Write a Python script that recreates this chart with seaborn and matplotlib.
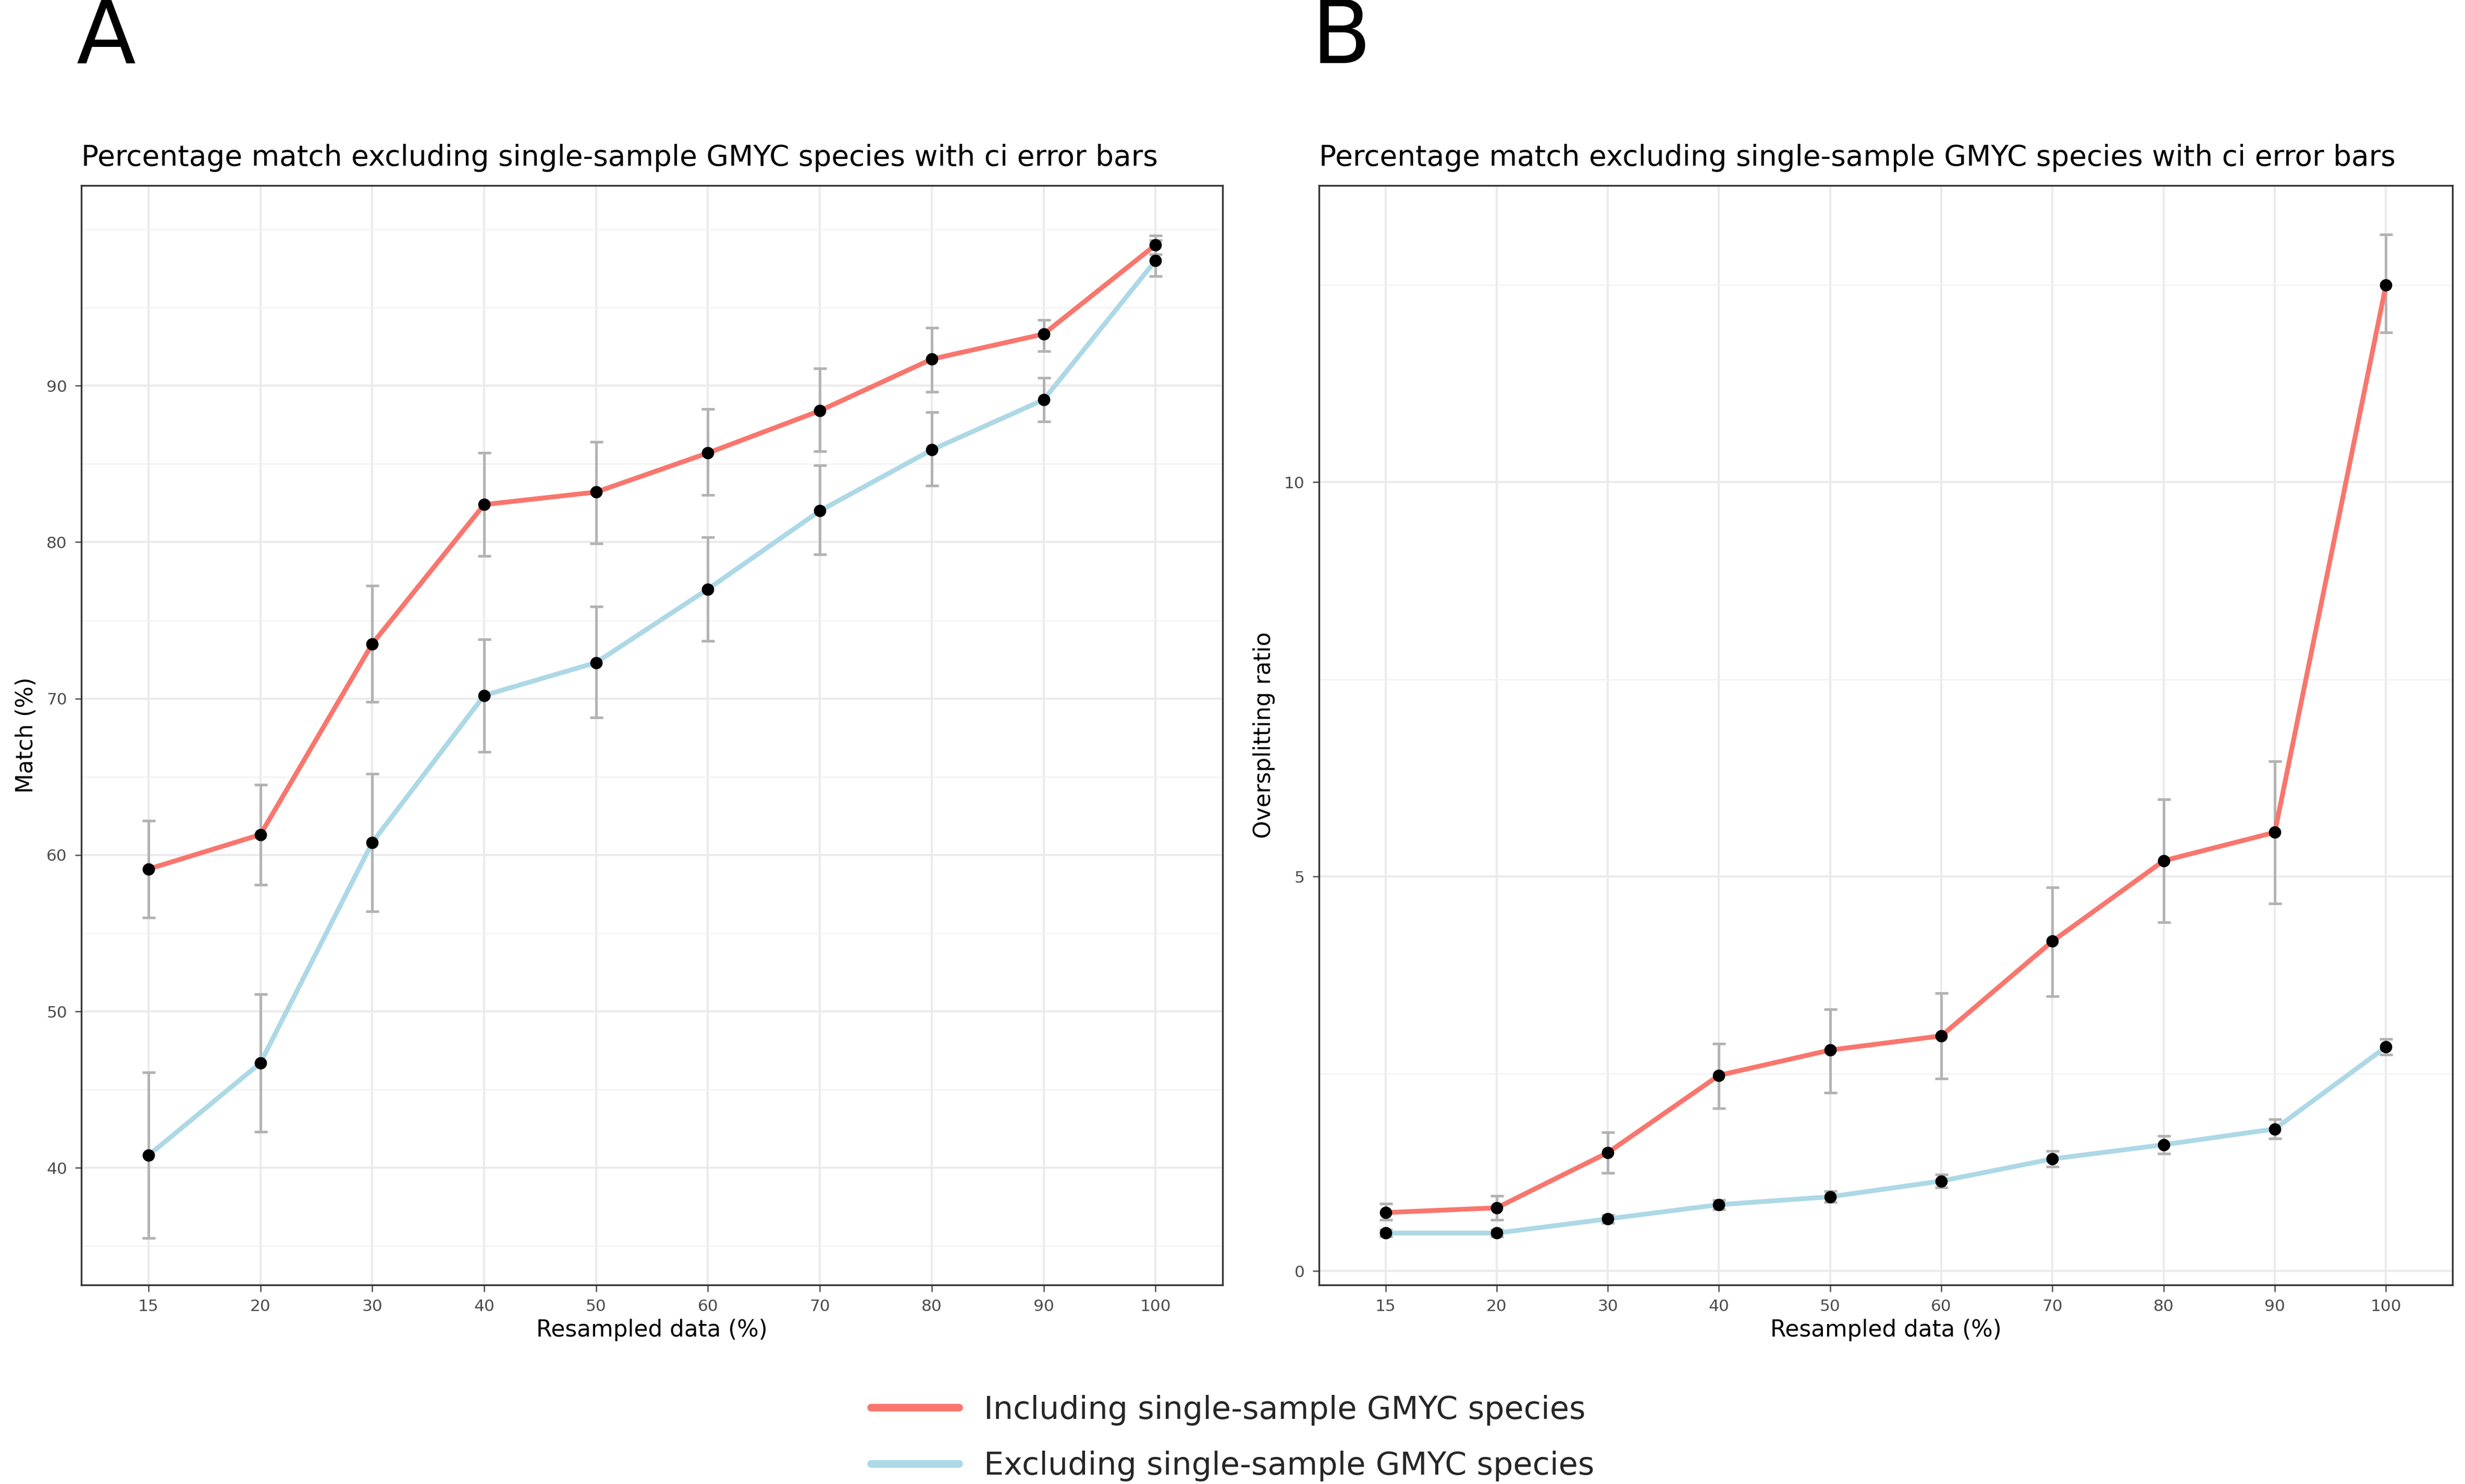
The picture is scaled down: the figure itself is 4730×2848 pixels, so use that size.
import matplotlib
matplotlib.use("Agg")
import matplotlib.pyplot as plt
import seaborn as sns
import pandas as pd
import numpy as np
from matplotlib.lines import Line2D

sns.set_theme(style="white")
plt.rcParams['font.family'] = ['DejaVu Sans']

resampled = ["15", "20", "30", "40", "50", "60", "70", "80", "90", "100"]

a_inc = [59.1, 61.3, 73.5, 82.4, 83.2, 85.7, 88.4, 91.7, 93.3, 99.0]
a_inc_lo = [56.0, 58.1, 69.8, 79.1, 79.9, 83.0, 85.8, 89.6, 92.2, 98.4]
a_inc_hi = [62.2, 64.5, 77.2, 85.7, 86.4, 88.5, 91.1, 93.7, 94.2, 99.6]
a_exc = [40.8, 46.7, 60.8, 70.2, 72.3, 77.0, 82.0, 85.9, 89.1, 98.0]
a_exc_lo = [35.5, 42.3, 56.4, 66.6, 68.8, 73.7, 79.2, 83.6, 87.7, 97.0]
a_exc_hi = [46.1, 51.1, 65.2, 73.8, 75.9, 80.3, 84.9, 88.3, 90.5, 99.3]

b_inc = [0.74, 0.80, 1.50, 2.48, 2.80, 2.98, 4.18, 5.20, 5.56, 12.5]
b_inc_lo = [0.65, 0.65, 1.24, 2.06, 2.26, 2.44, 3.48, 4.42, 4.66, 11.9]
b_inc_hi = [0.85, 0.95, 1.76, 2.88, 3.32, 3.52, 4.86, 5.98, 6.46, 13.14]
b_exc = [0.48, 0.48, 0.66, 0.84, 0.94, 1.14, 1.42, 1.60, 1.80, 2.84]
b_exc_lo = [0.44, 0.44, 0.61, 0.78, 0.87, 1.06, 1.32, 1.49, 1.68, 2.74]
b_exc_hi = [0.52, 0.52, 0.71, 0.90, 1.01, 1.22, 1.52, 1.71, 1.92, 2.94]

RED = "#F8766D"
BLUE = "#ADD8E6"
labels = ["Including single-sample GMYC species", "Excluding single-sample GMYC species"]

fig = plt.figure(figsize=(4730/300, 2848/300), dpi=300)
axA = fig.add_axes([0.033, 0.134, 0.463, 0.741])
axB = fig.add_axes([0.535, 0.134, 0.460, 0.741])

def panel(ax, inc, ilo, ihi, exc, elo, ehi, ylab, ylim, major, minor):
    idx = np.arange(len(resampled))
    df = pd.DataFrame({"x": np.concatenate([idx, idx]),
                       "y": inc + exc,
                       "s": [labels[0]]*10 + [labels[1]]*10})
    for vals, lo, hi in [(inc, ilo, ihi), (exc, elo, ehi)]:
        v = np.array(vals)
        ax.errorbar(idx, v, yerr=[v - np.array(lo), np.array(hi) - v], fmt="none",
                    ecolor="#b3b3b3", elinewidth=1.2, capsize=3, capthick=1.2, zorder=2)
    sns.lineplot(data=df, x="x", y="y", hue="s", palette=[RED, BLUE], lw=2.2,
                 ax=ax, legend=False, zorder=3)
    ax.scatter(df["x"], df["y"], color="black", s=22, zorder=4)
    ax.set_xlim(-0.6, 9.6)
    ax.set_ylim(*ylim)
    ax.set_xticks(idx)
    ax.set_xticklabels(resampled)
    ax.set_yticks(major)
    ax.set_yticks(minor, minor=True)
    ax.grid(True, which="major", color="#ebebeb", lw=1.0)
    ax.grid(True, which="minor", axis="y", color="#f2f2f2", lw=0.6)
    ax.set_axisbelow(True)
    for sp in ax.spines.values():
        sp.set_color("#333333"); sp.set_linewidth(0.8)
    ax.tick_params(axis="both", labelsize=7.5, colors="#4d4d4d", length=3, width=0.6,
                   left=True, bottom=True)
    ax.tick_params(axis="both", which="minor", length=0)
    ax.set_xlabel("Resampled data (%)", fontsize=10.5, labelpad=2, color="black")
    ax.set_ylabel(ylab, fontsize=10.5, color="black")
    ax.set_title("Percentage match excluding single-sample GMYC species with ci error bars",
                 fontsize=13.2, loc="left", pad=9, color="black")

panel(axA, a_inc, a_inc_lo, a_inc_hi, a_exc, a_exc_lo, a_exc_hi, "Match (%)",
      (32.5, 102.8), [40, 50, 60, 70, 80, 90], [35, 45, 55, 65, 75, 85, 95, 100])
panel(axB, b_inc, b_inc_lo, b_inc_hi, b_exc, b_exc_lo, b_exc_hi, "Oversplitting ratio",
      (-0.18, 13.76), [0, 5, 10], [2.5, 7.5, 12.5])

fig.text(0.031, 0.974, "A", fontsize=40, va="center", color="black")
fig.text(0.532, 0.974, "B", fontsize=40, va="center", color="black")

handles = [Line2D([], [], color=RED, lw=3.5), Line2D([], [], color=BLUE, lw=3.5)]
fig.legend(handles, labels, loc="center", bbox_to_anchor=(0.5, 0.031), ncol=1,
           frameon=False, fontsize=14.5, handlelength=2.8, labelspacing=0.8)

fig.savefig("out.png", dpi=300)
